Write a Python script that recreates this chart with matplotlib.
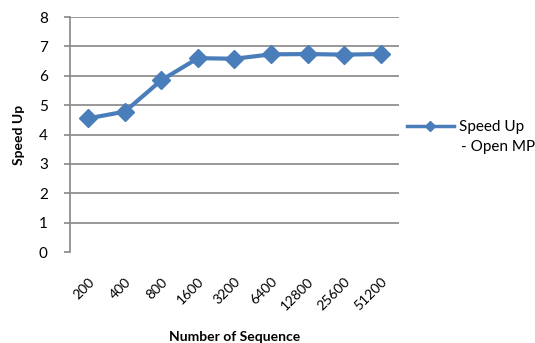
import matplotlib.pyplot as plt
from matplotlib.lines import Line2D

# Datos
sequences = ['200', '400', '800', '1600', '3200', '6400', '12800', '25600', '51200']
speed_up = [4.55, 4.78, 5.85, 6.60, 6.58, 6.73, 6.74, 6.72, 6.74]

plt.rcParams['font.family'] = ['Lato', 'DejaVu Sans']

blue = '#4A7EBB'
grey = '#868686'

fig = plt.figure(figsize=(5.35, 3.43), dpi=100)
ax = fig.add_axes([0.1308, 0.2653, 0.615, 0.685])

x = list(range(len(sequences)))
ax.plot(x, speed_up, color=blue, lw=3, marker='D', ms=9, zorder=3)

ax.set_xlim(-0.5, len(sequences) - 0.5)
ax.set_ylim(0, 8)
ax.set_yticks(range(0, 9))
ax.set_xticks(x)
ax.set_xticklabels(sequences, rotation=45, ha='right', rotation_mode='anchor', fontsize=10)

# lineas horizontales (sin la de 0)
for v in range(1, 9):
    ax.axhline(v, color=grey, lw=1.2, zorder=1)

for s in ['top', 'right', 'bottom']:
    ax.spines[s].set_visible(False)
ax.spines['left'].set_color(grey)
ax.spines['left'].set_linewidth(1.2)

ax.tick_params(axis='y', colors=grey, length=4, width=1.2, pad=12, labelsize=11, labelcolor='black')
ax.tick_params(axis='x', length=0, pad=17)

ax.set_ylabel('Speed Up', fontsize=10, fontweight='bold', labelpad=10)
ax.set_xlabel('Number of Sequence', fontsize=10, fontweight='bold', labelpad=13)

# Leyenda
handle = Line2D([], [], color=blue, lw=2.5, marker='D', ms=5.5)
fig.legend([handle], ['Speed Up'], loc='center left', bbox_to_anchor=(0.760, 0.63),
           frameon=False, fontsize=11, handlelength=3.1, handletextpad=0.35,
           borderpad=0, borderaxespad=0)
fig.text(0.862, 0.571, '- Open MP', fontsize=11, va='center', ha='left')

fig.savefig('out.png', dpi=100)
